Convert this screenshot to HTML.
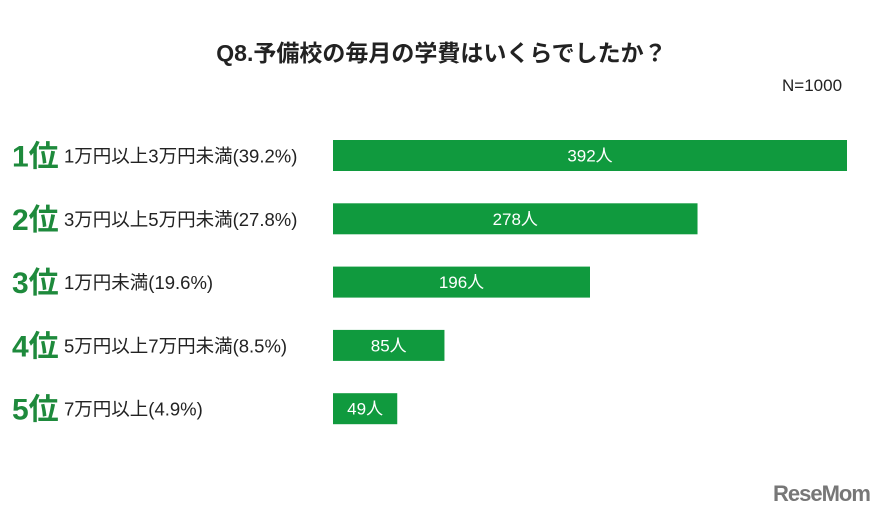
<!DOCTYPE html>
<html><head><meta charset="utf-8"><style>
html,body{margin:0;padding:0;background:#fff;}
body{width:883px;height:520px;position:relative;overflow:hidden;font-family:"Liberation Sans","Noto Sans CJK JP",sans-serif;}
.t{position:absolute;white-space:nowrap;}
</style></head><body>
<div class="t" style="left:0;width:883px;text-align:center;top:34px;font-size:23px;font-weight:bold;color:#222;">Q8.予備校の毎月の学費はいくらでしたか？</div>
<div class="t" style="left:782px;top:76px;font-size:17px;color:#222;">N=1000</div>
<svg id="chart" width="883" height="520" style="position:absolute;left:0;top:0"></svg>
<div class="t" style="left:773px;top:481px;font-size:22px;font-weight:bold;color:#777;letter-spacing:-1px;">ReseMom</div>
<script>
const ranks = ["1位","2位","3位","4位","5位"];
const categories = ["1万円以上3万円未満(39.2%)","3万円以上5万円未満(27.8%)","1万円未満(19.6%)","5万円以上7万円未満(8.5%)","7万円以上(4.9%)"];
const values = [392,278,196,85,49];
const valueLabels = ["392人","278人","196人","85人","49人"];
const svg = document.getElementById('chart');
const NS = 'http://www.w3.org/2000/svg';
const x0 = 333, xMaxPx = 847, vMax = 392;
function xScale(v){ return x0 + (xMaxPx - x0) * v / vMax; }
function yBand(i){ return 140 + i * 63.3; }
const bh = 31;
values.forEach((v,i)=>{
  const y = yBand(i);
  const r = document.createElementNS(NS,'rect');
  
  
  r.setAttribute('x',x0); r.setAttribute('y',y);
  r.setAttribute('width',xScale(v)-x0); r.setAttribute('height',bh);
  r.setAttribute('fill','#109a3e');
  svg.appendChild(r);
  const t = document.createElementNS(NS,'text');
  
  
  t.setAttribute('x',(x0+xScale(v))/2); t.setAttribute('y',y+bh/2+6);
  t.setAttribute('text-anchor','middle'); t.setAttribute('fill','#fff');
  t.setAttribute('font-size','17');
  t.textContent = valueLabels[i];
  svg.appendChild(t);
  const rk = document.createElementNS(NS,'text');
  
  
  rk.setAttribute('x',12); rk.setAttribute('y',y+bh/2+11);
  rk.setAttribute('fill','#1e8a3c'); rk.setAttribute('font-size','30'); rk.setAttribute('font-weight','bold');
  rk.textContent = ranks[i];
  svg.appendChild(rk);
  const c = document.createElementNS(NS,'text');
  
  
  c.setAttribute('x',64); c.setAttribute('y',y+bh/2+7);
  c.setAttribute('fill','#222'); c.setAttribute('font-size','18.5');
  c.textContent = categories[i];
  svg.appendChild(c);
});
</script>
</body></html>
